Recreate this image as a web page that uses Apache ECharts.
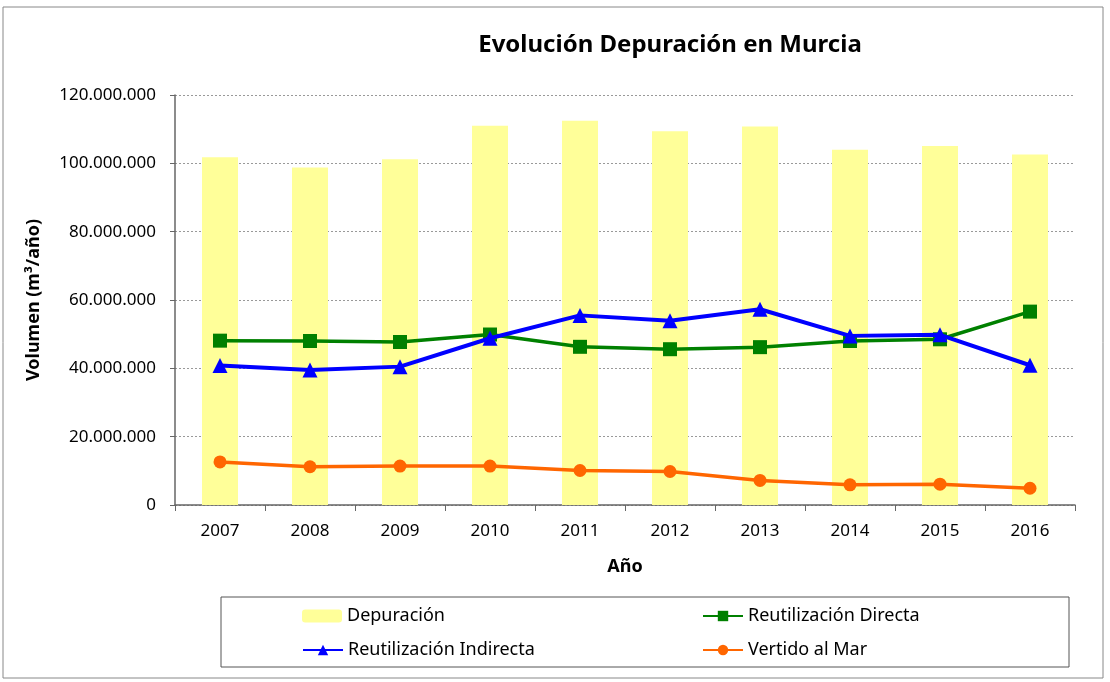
<!DOCTYPE html>
<html>
<head>
<meta charset="utf-8">
<script src="https://cdn.jsdelivr.net/npm/echarts@6/dist/echarts.min.js"></script>
<style>
  html, body { margin: 0; padding: 0; background: #fff; }
  #chart { width: 1110px; height: 682px; }
</style>
</head>
<body>
<div id="chart"></div>
<script>
var years = ['2007', '2008', '2009', '2010', '2011', '2012', '2013', '2014', '2015', '2016'];
var depuracion = [101800000, 98800000, 101200000, 111000000, 112500000, 109400000, 110800000, 104000000, 105100000, 102600000];
var reutDirecta = [48100000, 48000000, 47700000, 49900000, 46300000, 45600000, 46200000, 48000000, 48500000, 56600000];
var reutIndirecta = [40800000, 39500000, 40500000, 48800000, 55500000, 53900000, 57300000, 49500000, 49800000, 40900000];
var vertidoMar = [12600000, 11200000, 11400000, 11400000, 10100000, 9800000, 7200000, 5900000, 6100000, 4900000];

var FONT = 'Noto Sans';

function miles(v) {
	// 120000000 -> 120.000.000
	return String(v).replace(/\B(?=(\d{3})+(?!\d))/g, '.');
}

var myChart = echarts.init(document.getElementById('chart'));

var legendBase = {
	orient: 'horizontal',
	itemWidth: 40,
	itemHeight: 13,
	itemGap: 5,
	textStyle: { fontFamily: FONT, fontSize: 18, color: '#000' },
	selectedMode: false
};

var option = {
	backgroundColor: '#fff',
	animation: false,
	title: {
		text: 'Evolución Depuración en Murcia',
		left: 665,
		top: 28,
		textAlign: 'center',
		textStyle: { fontFamily: FONT, fontSize: 24, fontWeight: 'bold', color: '#000' }
	},
	legend: [
		Object.assign({}, legendBase, { data: ['Depuración'], left: 297, top: 602 }),
		Object.assign({}, legendBase, { data: ['Reutilización Directa'], left: 697, top: 602 }),
		Object.assign({}, legendBase, { data: ['Reutilización Indirecta'], left: 297, top: 636 }),
		Object.assign({}, legendBase, { data: ['Vertido al Mar'], left: 697, top: 636 })
	],
	graphic: [
		{
			type: 'rect',
			shape: { x: 3, y: 7, width: 1100, height: 671 },
			style: { fill: 'none', stroke: '#888', lineWidth: 1 },
			silent: true
		},
		{
			type: 'rect',
			shape: { x: 221, y: 597, width: 848, height: 70 },
			style: { fill: 'none', stroke: '#555', lineWidth: 1 },
			silent: true
		}
	],
	grid: {
		left: 175,
		right: 35,
		top: 95,
		bottom: 177,
		containLabel: false
	},
	xAxis: {
		type: 'category',
		data: years,
		name: 'Año',
		nameLocation: 'middle',
		nameGap: 53,
		nameTextStyle: { fontFamily: FONT, fontSize: 18, fontWeight: 'bold', color: '#000' },
		axisLine: { lineStyle: { color: '#666', width: 1.5 } },
		axisTick: { show: true, length: 6, alignWithLabel: false, lineStyle: { color: '#666' } },
		axisLabel: { fontFamily: FONT, fontSize: 17, color: '#000', margin: 18 }
	},
	yAxis: {
		type: 'value',
		min: 0,
		max: 120000000,
		interval: 20000000,
		name: 'Volumen (m³/año)',
		nameLocation: 'middle',
		nameGap: 132,
		nameRotate: 90,
		nameTextStyle: { fontFamily: FONT, fontSize: 18, fontWeight: 'bold', color: '#000' },
		axisLine: { show: true, lineStyle: { color: '#666', width: 1.5 } },
		axisTick: { show: true, length: 5, inside: false, lineStyle: { color: '#666' } },
		axisLabel: {
			fontFamily: FONT, fontSize: 17, color: '#000', margin: 19,
			formatter: function (v) { return miles(v); }
		},
		splitLine: { show: true, lineStyle: { color: '#999', type: [2, 2], width: 1 } }
	},
	series: [
		{
			name: 'Depuración',
			type: 'bar',
			data: depuracion,
			barWidth: '40%',
			itemStyle: { color: '#ffff99' },
			z: 1
		},
		{
			name: 'Reutilización Directa',
			type: 'line',
			data: reutDirecta,
			symbol: 'rect',
			symbolSize: 14,
			itemStyle: { color: '#008000' },
			lineStyle: { color: '#008000', width: 3.5 },
			z: 3
		},
		{
			name: 'Reutilización Indirecta',
			type: 'line',
			data: reutIndirecta,
			symbol: 'triangle',
			symbolSize: 15,
			itemStyle: { color: '#0000ff' },
			lineStyle: { color: '#0000ff', width: 4 },
			z: 4
		},
		{
			name: 'Vertido al Mar',
			type: 'line',
			data: vertidoMar,
			symbol: 'circle',
			symbolSize: 13,
			itemStyle: { color: '#ff6600' },
			lineStyle: { color: '#ff6600', width: 3.5 },
			z: 3
		}
	]
};

myChart.setOption(option);
window.addEventListener('resize', function () {
	myChart.resize();
});
</script>
</body>
</html>
